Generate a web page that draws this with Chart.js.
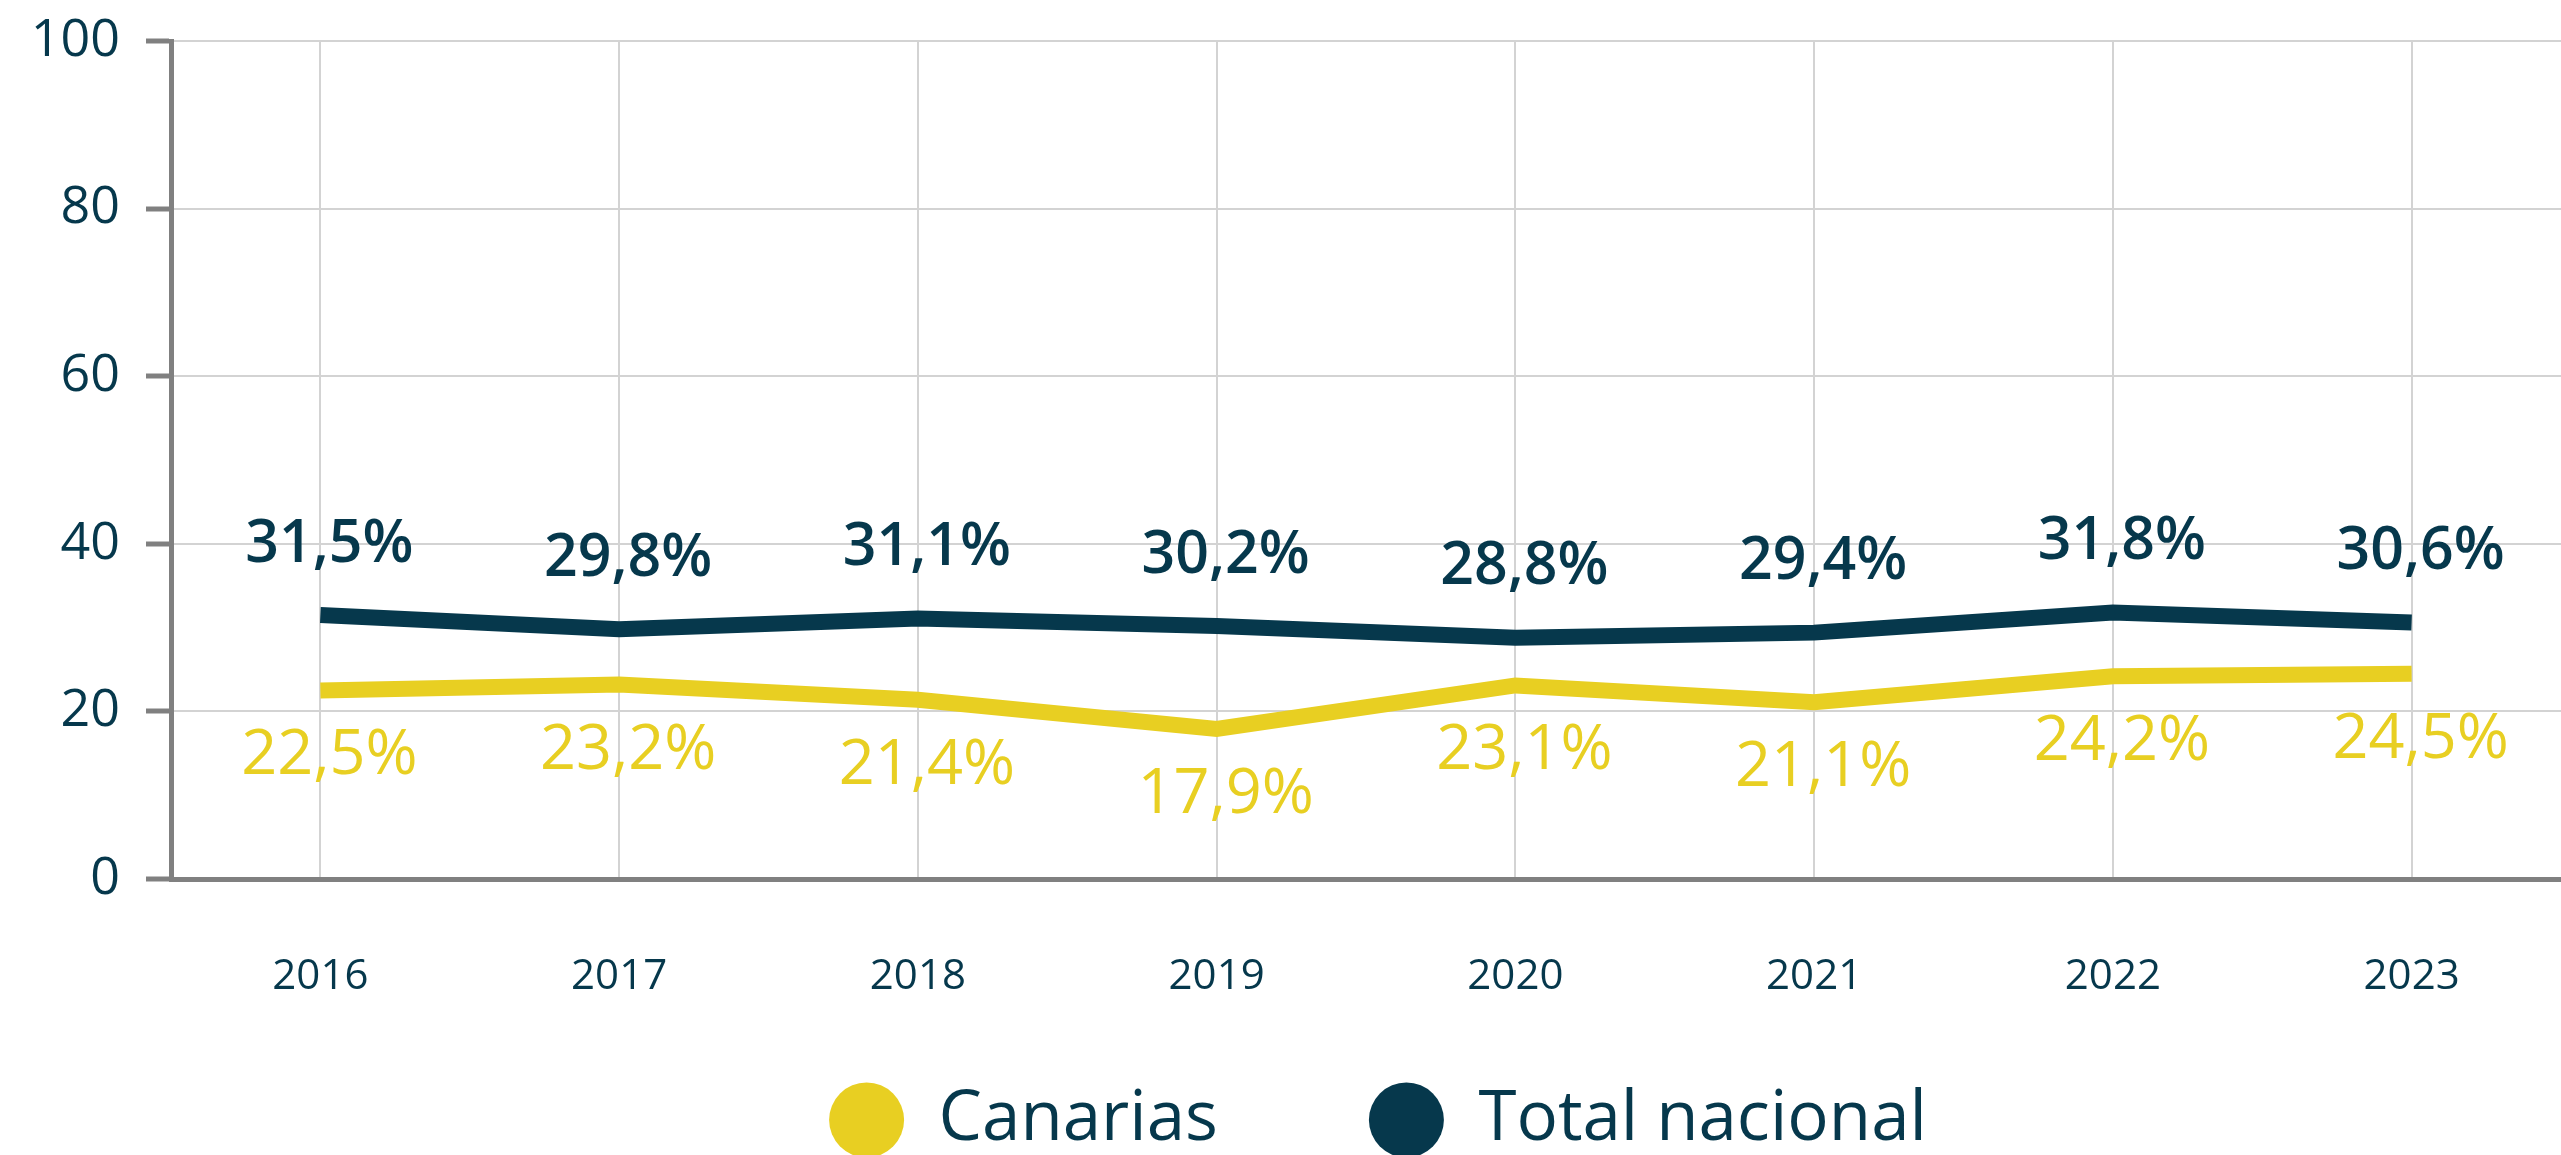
<!DOCTYPE html>
<html>
<head>
<meta charset="utf-8">
<script src="https://cdn.jsdelivr.net/npm/chart.js@4.4.1/dist/chart.umd.min.js"></script>
<style>
  html, body { margin: 0; padding: 0; background: #ffffff; overflow: hidden; }
  #wrap { position: relative; top: -19px; width: 2561px; height: 1256px; }
</style>
</head>
<body>
<div id="wrap"><canvas id="c"></canvas></div>
<script>
const years = ['2016', '2017', '2018', '2019', '2020', '2021', '2022', '2023'];
const seriesNames = ['Canarias', 'Total nacional'];
const canarias = [22.5, 23.2, 21.4, 17.9, 23.1, 21.1, 24.2, 24.5];
const totalNacional = [31.5, 29.8, 31.1, 30.2, 28.8, 29.4, 31.8, 30.6];
const yMin = 0, yMax = 100, yStep = 20;

const YELLOW = '#e8cf22';
const NAVY = '#06384c';
const FONT = "'Open Sans', 'DejaVu Sans', sans-serif";

const valueLabels = {
  id: 'valueLabels',
  afterDatasetsDraw(chart) {
    const ctx = chart.ctx;
    ctx.save();
    ctx.textAlign = 'center';
    ctx.textBaseline = 'middle';
    chart.data.datasets.forEach((ds, i) => {
      const meta = chart.getDatasetMeta(i);
      const dy = ds.labelAbove ? -70 : 66;
      ctx.fillStyle = ds.borderColor;
      ctx.font = ds.labelAbove ? '600 59px ' + FONT : '400 63px ' + FONT;
      meta.data.forEach((pt, j) => {
        const txt = ds.data[j].toFixed(1).replace('.', ',') + '%';
        ctx.fillText(txt, pt.x + 9, pt.y + dy);
      });
    });
    ctx.restore();
  }
};

// place the legend row at a fixed distance below the plot area
const legendPlacer = {
  id: 'legendPlacer',
  afterLayout(chart) {
    const lg = chart.legend;
    if (!lg) return;
    const pad = lg.options.labels.padding;
    const h = lg.height;
    const itemTop = chart.chartArea.bottom + 203.5;
    lg.top = itemTop - pad;
    lg.bottom = lg.top + h;
    lg.left += 12;
    lg.right += 12;
  }
};

new Chart(document.getElementById('c'), {
  type: 'line',
  data: {
    labels: years,
    datasets: [
      {
        label: seriesNames[0],
        data: canarias,
        borderColor: YELLOW,
        backgroundColor: YELLOW,
        borderWidth: 16,
        borderCapStyle: 'butt',
        borderJoinStyle: 'miter',
        pointRadius: 0,
        pointHoverRadius: 0,
        tension: 0,
        fill: false,
        labelAbove: false
      },
      {
        label: seriesNames[1],
        data: totalNacional,
        borderColor: NAVY,
        backgroundColor: NAVY,
        borderWidth: 16,
        borderCapStyle: 'butt',
        borderJoinStyle: 'miter',
        pointRadius: 0,
        pointHoverRadius: 0,
        tension: 0,
        fill: false,
        labelAbove: true
      }
    ]
  },
  options: {
    responsive: true,
    maintainAspectRatio: false,
    animation: false,
    layout: { padding: { top: 60, right: 0, bottom: 0, left: 0 } },
    plugins: {
      tooltip: { enabled: false },
      legend: {
        position: 'bottom',
        fullSize: false,
        labels: {
          color: NAVY,
          font: { family: FONT, size: 69, weight: '400' },
          boxWidth: 75,
          boxHeight: 75,
          useBorderRadius: true,
          borderRadius: 37.5,
          padding: 151,
          generateLabels: (chart) =>
            Chart.defaults.plugins.legend.labels.generateLabels(chart).map(l => Object.assign(l, { lineWidth: 0 }))
        }
      }
    },
    scales: {
      x: {
        offset: true,
        grid: { color: '#d3d3d3', lineWidth: 2, drawTicks: false },
        border: { display: true, color: '#808080', width: 5 },
        ticks: {
          color: NAVY,
          font: { family: FONT, size: 42 },
          padding: 73,
          maxRotation: 0,
          autoSkip: false
        },
        afterFit: (s) => { s.height = 122; }
      },
      y: {
        min: yMin,
        max: yMax,
        grid: { color: '#d3d3d3', lineWidth: 2, tickLength: 25, tickColor: '#808080', tickWidth: 5 },
        border: { display: true, color: '#808080', width: 5 },
        ticks: {
          stepSize: yStep,
          color: NAVY,
          font: { family: FONT, size: 52 },
          padding: 26
        },
        afterFit: (s) => { s.width = 171; }
      }
    }
  },
  plugins: [valueLabels, legendPlacer]
});
</script>
</body>
</html>
